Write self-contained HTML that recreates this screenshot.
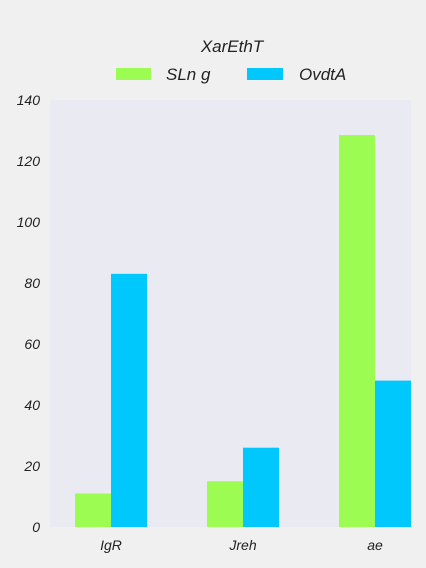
<!DOCTYPE html>
<html><head><meta charset="utf-8"><style>
html,body{margin:0;padding:0;background:#f0f0f0;}
svg{display:block;font-family:"Liberation Sans",sans-serif;font-style:italic;}
</style></head><body>
<svg width="426" height="568" viewBox="0 0 426 568">
<rect x="50" y="100" width="361" height="427" fill="#eaeaf2"/>
<text x="232" y="52" text-anchor="middle" font-size="17" fill="#222">XarEthT</text>
<g>
<rect x="116" y="68" width="35" height="12" fill="#9dfc52"/>
<text x="166" y="80" font-size="17" fill="#222">SLn g</text>
<rect x="247" y="68" width="36" height="12" fill="#00c8fc"/>
<text x="299" y="80" font-size="17" fill="#222">OvdtA</text>
</g>
<g id="yaxis"></g>
<g id="xaxis"></g>
<g id="bars"></g>
</svg>
<script>
const categories = ["IgR", "Jreh", "ae"];
const seriesSLng = [11, 15, 128.5];
const seriesOvdtA = [83, 26, 48];
const yTicks = [0, 20, 40, 60, 80, 100, 120, 140];
const NS = "http://www.w3.org/2000/svg";
function y(v){ return 527 - v * (427/140); }
function xc(i){ return 111 + i * 132; }
const ya = document.getElementById('yaxis');
yTicks.forEach(t => {
  const tx = document.createElementNS(NS, 'text');
  tx.setAttribute('x', 40); tx.setAttribute('y', y(t) + 5);
  tx.setAttribute('text-anchor', 'end'); tx.setAttribute('font-size', '14'); tx.setAttribute('fill', '#222');
  tx.textContent = t;
  
  
  ya.appendChild(tx);
});
const xa = document.getElementById('xaxis');
const bars = document.getElementById('bars');
categories.forEach((c, i) => {
  const tx = document.createElementNS(NS, 'text');
  tx.setAttribute('x', xc(i)); tx.setAttribute('y', 550);
  tx.setAttribute('text-anchor', 'middle'); tx.setAttribute('font-size', '14'); tx.setAttribute('fill', '#222');
  tx.textContent = c;
  
  
  xa.appendChild(tx);
  [[seriesSLng, '#9dfc52', -36, 'bar-slng'], [seriesOvdtA, '#00c8fc', 0, 'bar-ovdta']].forEach(s => {
    const r = document.createElementNS(NS, 'rect');
    const v = s[0][i];
    r.setAttribute('x', xc(i) + s[2]); r.setAttribute('width', 36);
    r.setAttribute('y', y(v)); r.setAttribute('height', 527 - y(v));
    r.setAttribute('fill', s[1]);
    
    
    bars.appendChild(r);
  });
});
</script>
</body></html>
